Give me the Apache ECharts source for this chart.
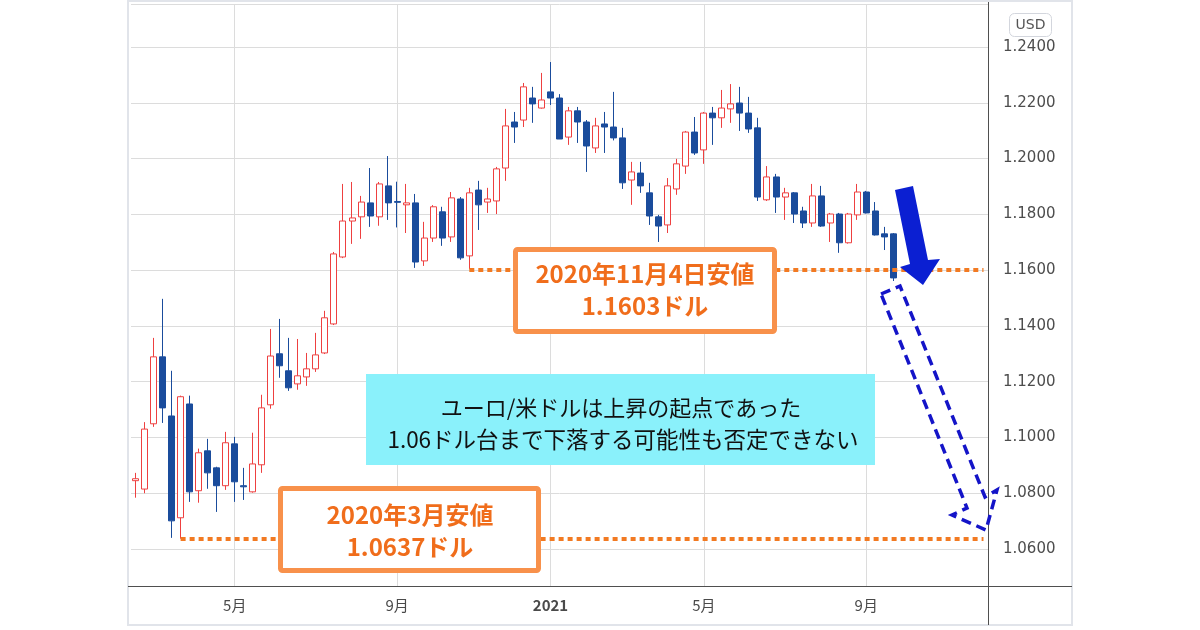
<!DOCTYPE html>
<html><head><meta charset="utf-8">
<script src="https://cdn.jsdelivr.net/npm/echarts@6/dist/echarts.min.js"></script>
<style>html,body{margin:0;padding:0;background:#fff}#c{width:1200px;height:630px}</style>
</head><body><div id="c"></div>
<script>
// ---- data (weekly EUR/USD candles) ----
const startWeek = '2020-02-17';
const weekCount = 95; // includes empty future weeks on the right
const opens = [1.0845,1.0815,1.1049,1.1289,1.1077,1.0712,1.1120,1.0809,1.0952,1.0891,
1.0827,1.0977,1.0827,1.0805,1.0902,1.1117,1.1300,1.1239,1.1192,1.1217,
1.1246,1.1303,1.1407,1.1647,1.1776,1.1791,1.1841,1.1791,1.1902,1.1846,
1.1834,1.1841,1.1633,1.1715,1.1809,1.1719,1.1855,1.1651,1.1887,1.1844,
1.1848,1.1966,1.2131,1.2138,1.2217,1.2181,1.2239,1.2217,1.2077,1.2171,
1.2131,1.2038,1.2124,1.2113,1.2074,1.1923,1.1948,1.1877,1.1791,1.1762,
1.1891,1.1973,1.2095,1.2031,1.2163,1.2146,1.2178,1.2199,1.2163,1.2110,
1.1852,1.1934,1.1862,1.1877,1.1812,1.1769,1.1866,1.1769,1.1801,1.1698,
1.1798,1.1880,1.1812,1.1730,1.1730];
const closes = [1.0852,1.1030,1.1289,1.1106,1.0701,1.1146,1.0805,1.0945,1.0873,1.0827,
1.0981,1.0841,1.0823,1.0905,1.1106,1.1292,1.1257,1.1178,1.1221,1.1246,
1.1296,1.1429,1.1658,1.1776,1.1787,1.1844,1.1794,1.1909,1.1841,1.1843,
1.1841,1.1629,1.1715,1.1827,1.1715,1.1859,1.1644,1.1877,1.1834,1.1855,
1.1963,1.2117,1.2113,1.2257,1.2196,1.2210,1.2217,1.2070,1.2171,1.2131,
1.2045,1.2117,1.2113,1.2074,1.1913,1.1952,1.1902,1.1794,1.1758,1.1902,
1.1981,1.2095,1.2020,1.2163,1.2146,1.2181,1.2196,1.2163,1.2106,1.1862,
1.1934,1.1862,1.1877,1.1801,1.1769,1.1866,1.1758,1.1801,1.1698,1.1801,
1.1880,1.1805,1.1726,1.1719,1.1572];
const lows = [1.0784,1.0800,1.1038,1.1052,1.0640,1.0637,1.0769,1.0766,1.0816,1.0733,
1.0812,1.0769,1.0776,1.0802,1.0873,1.1103,1.1214,1.1167,1.1171,1.1185,
1.1235,1.1299,1.1403,1.1643,1.1694,1.1712,1.1755,1.1759,1.1780,1.1753,
1.1733,1.1608,1.1615,1.1701,1.1687,1.1701,1.1637,1.1603,1.1744,1.1805,
1.1801,1.1920,1.2056,1.2113,1.2128,1.2179,1.2192,1.2070,1.2049,1.2056,
1.1952,1.2020,1.2020,1.2065,1.1891,1.1834,1.1877,1.1762,1.1701,1.1733,
1.1870,1.1945,1.2013,1.1981,1.2049,1.2110,1.2128,1.2099,1.2092,1.1848,
1.1848,1.1805,1.1780,1.1769,1.1751,1.1755,1.1755,1.1701,1.1662,1.1695,
1.1780,1.1803,1.1724,1.1672,1.1561];
const highs = [1.0873,1.1055,1.1357,1.1497,1.1239,1.1150,1.1150,1.0960,1.0995,1.0895,
1.1020,1.1002,1.0891,1.1017,1.1153,1.1389,1.1425,1.1357,1.1353,1.1303,
1.1375,1.1454,1.1665,1.1909,1.1916,1.1866,1.1966,1.1916,1.2009,1.1917,
1.1909,1.1873,1.1773,1.1833,1.1827,1.1880,1.1862,1.1895,1.1920,1.1895,
1.1970,1.2178,1.2167,1.2271,1.2257,1.2307,1.2346,1.2231,1.2185,1.2185,
1.2138,1.2146,1.2167,1.2239,1.2110,1.1988,1.1988,1.1913,1.1798,1.1930,
1.1999,1.2099,1.2149,1.2167,1.2185,1.2246,1.2267,1.2257,1.2221,1.2146,
1.1973,1.1945,1.1895,1.1880,1.1827,1.1909,1.1902,1.1805,1.1805,1.1805,
1.1909,1.1884,1.1844,1.1755,1.1733];
const tickDates = ['2020-05-04','2020-09-07','2021-01-04','2021-05-03','2021-09-06'];
const tickLabels = ['5月','9月','2021','5月','9月'];
const yMin = 1.04674, yMax = 1.25541;
const novLow = { date: '2020-11-02', value: 1.1603 };
const marLow = { date: '2020-03-23', value: 1.0637 };

// ---- build ----
const categories = [];
(function(){
  const p = startWeek.split('-').map(Number);
  const t0 = Date.UTC(p[0], p[1]-1, p[2]);
  for (let i = 0; i < weekCount; i++) {
    categories.push(new Date(t0 + i*7*86400000).toISOString().slice(0,10));
  }
})();
const lineEndDate = categories[categories.length - 1];
const ohlc = opens.map((o,i) => [o, closes[i], lows[i], highs[i]]);
const isTick = (idx, val) => tickDates.indexOf(val) >= 0;

const chart = echarts.init(document.getElementById('c'), null, {renderer:'canvas'});
const axisColor = '#4f4f4f';
const gridColor = '#dcdcdc';
const orangeText = '#f06d1b';
const orangeBorder = '#f8914b';
const orangeDot = '#f27a22';
const cjk = '"Noto Sans CJK JP", sans-serif';

chart.setOption({
  animation: false,
  backgroundColor: '#ffffff',
  grid: { left: 131, right: 212, top: 4, bottom: 44, containLabel: false, outerBoundsMode: 'none' },
  xAxis: {
    type: 'category',
    data: categories,
    boundaryGap: true,
    axisLine: { show: true, lineStyle: { color: axisColor, width: 1 } },
    axisTick: { show: false },
    axisLabel: {
      interval: isTick,
      margin: 12,
      fontSize: 15,
      color: '#4a4a4a',
      fontFamily: cjk,
      formatter: v => {
        const k = tickDates.indexOf(v);
        if (k < 0) return '';
        const s = tickLabels[k];
        return /^\d{4}$/.test(s) ? '{b|' + s + '}' : s;
      },
      rich: { b: { fontWeight: 'bold', fontSize: 15, color: '#4a4a4a', fontFamily: cjk } }
    },
    splitLine: { show: true, interval: isTick, alignWithLabel: true, lineStyle: { color: gridColor, width: 1 } }
  },
  yAxis: {
    type: 'value',
    position: 'right',
    min: yMin, max: yMax,
    splitNumber: 10,
    axisLine: { show: true, lineStyle: { color: axisColor, width: 1 } },
    axisTick: { show: false },
    axisLabel: {
      showMinLabel: false, showMaxLabel: false,
      margin: 15, fontSize: 15, color: '#4d4d4d', fontFamily: '"DejaVu Sans", sans-serif',
      formatter: v => {
        const r = v / 0.02;
        return Math.abs(r - Math.round(r)) > 1e-6 ? '' : v.toFixed(4);
      }
    },
    splitLine: { show: true, lineStyle: { color: gridColor, width: 1 } }
  },
  series: [{
    type: 'candlestick',
    data: ohlc,
    barWidth: 6.5,
    itemStyle: {
      color: '#ffffff', color0: '#1a4c9c',
      borderColor: '#ee4040', borderColor0: '#1a4c9c', borderWidth: 1
    },
    markLine: {
      silent: true,
      symbol: 'none',
      label: { show: false },
      lineStyle: { color: orangeDot, width: 4, type: [5, 4] },
      data: [
        [{ coord: [novLow.date, novLow.value] }, { coord: [lineEndDate, novLow.value] }],
        [{ coord: [marLow.date, marLow.value] }, { coord: [lineEndDate, marLow.value] }]
      ]
    }
  }],
  graphic: [
    { type: 'rect', z: 100, silent: true, shape: { x: 128, y: 1, width: 944, height: 624 },
      style: { fill: 'none', stroke: '#e1e4ea', lineWidth: 2 } },
    { type: 'line', z: 100, silent: true, shape: { x1: 128, y1: 586.5, x2: 1072, y2: 586.5 },
      style: { stroke: axisColor, lineWidth: 1 } },
    { type: 'line', z: 100, silent: true, shape: { x1: 988.5, y1: 2, x2: 988.5, y2: 625 },
      style: { stroke: axisColor, lineWidth: 1 } },
    { type: 'rect', z: 100, silent: true, shape: { x: 1009.5, y: 13.5, width: 42, height: 23, r: 5 },
      style: { fill: '#fff', stroke: '#d3d6dd', lineWidth: 1 } },
    { type: 'text', z: 101, silent: true, x: 1030.5, y: 25.5,
      style: { text: 'USD', fill: '#555', font: '14px "DejaVu Sans", sans-serif', align: 'center', verticalAlign: 'middle' } },

    // Nov 4 low box
    { type: 'rect', z: 100, silent: true, shape: { x: 515.5, y: 249.5, width: 259, height: 82, r: 2 },
      style: { fill: '#fff', stroke: orangeBorder, lineWidth: 5 } },
    { type: 'text', z: 101, silent: true, x: 645, y: 274,
      style: { text: '2020年11月4日安値', fill: orangeText, font: 'bold 24px ' + cjk, align: 'center', verticalAlign: 'middle' } },
    { type: 'text', z: 101, silent: true, x: 645, y: 306,
      style: { text: '1.1603ドル', fill: orangeText, font: 'bold 24px ' + cjk, align: 'center', verticalAlign: 'middle' } },

    // March low box
    { type: 'rect', z: 100, silent: true, shape: { x: 280.5, y: 488.5, width: 258, height: 82, r: 2 },
      style: { fill: '#fff', stroke: orangeBorder, lineWidth: 5 } },
    { type: 'text', z: 101, silent: true, x: 410, y: 515,
      style: { text: '2020年3月安値', fill: orangeText, font: 'bold 24px ' + cjk, align: 'center', verticalAlign: 'middle' } },
    { type: 'text', z: 101, silent: true, x: 410, y: 547,
      style: { text: '1.0637ドル', fill: orangeText, font: 'bold 24px ' + cjk, align: 'center', verticalAlign: 'middle' } },

    // cyan comment box
    { type: 'rect', z: 100, silent: true, shape: { x: 366, y: 374, width: 509, height: 91 },
      style: { fill: '#8af1fb', stroke: 'none' } },
    { type: 'text', z: 101, silent: true, x: 621, y: 408,
      style: { text: 'ユーロ/米ドルは上昇の起点であった', fill: '#111', font: '22px ' + cjk, align: 'center', verticalAlign: 'middle' } },
    { type: 'text', z: 101, silent: true, x: 623, y: 439,
      style: { text: '1.06ドル台まで下落する可能性も否定できない', fill: '#111', font: '22.5px ' + cjk, align: 'center', verticalAlign: 'middle' } },

    // solid arrow
    { type: 'polygon', z: 100, silent: true,
      shape: { points: [[895,190],[913,186],[928,260],[940,259],[923,285],[900,267],[910,264]] },
      style: { fill: '#0b1fd2' } },
    // dashed hollow arrow
    { type: 'polygon', z: 100, silent: true,
      shape: { points: [[881,294],[900,286],[985,497],[997,490],[986,530],[952,515],[967,508]] },
      style: { fill: 'none', stroke: '#1414c8', lineWidth: 3.5, lineDash: [10, 6] } }
  ]
});
</script>
</body></html>
